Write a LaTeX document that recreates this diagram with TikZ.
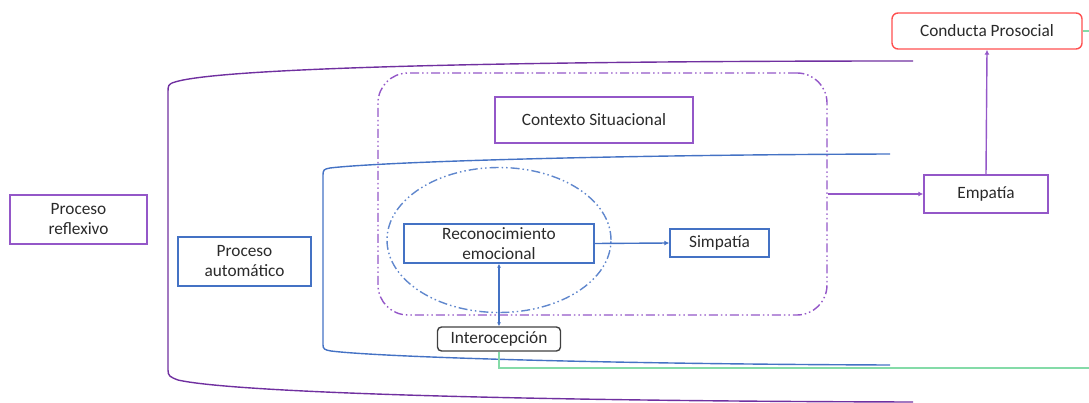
\documentclass[tikz,border=0pt]{standalone}
\usepackage{fontspec}
\setmainfont{Carlito}
\usetikzlibrary{arrows.meta,shapes.geometric}
\definecolor{morado}{HTML}{7030A0}
\definecolor{cajam}{HTML}{9457C8}
\definecolor{azul}{HTML}{4472C4}
\definecolor{rojo}{HTML}{FF5050}
\definecolor{verde}{HTML}{84DBA8}
\definecolor{gris}{HTML}{404040}
\definecolor{texto}{HTML}{2A2A2A}

\begin{document}
\begin{tikzpicture}[x=1pt, y=-1pt, line width=1.4pt,
	caja/.style={draw, align=center, inner sep=0pt, text=texto,
		font=\fontsize{17.3}{20}\selectfont},
	cajamorada/.style={caja, draw=cajam},
	cajaazul/.style={caja, draw=azul},
	flecha/.style={-{Latex[length=5pt,width=5pt]}},
	rayapunto/.style={dash pattern=on 9pt off 3pt on 1.5pt off 3pt on 1.5pt off 3pt}]
	\useasboundingbox (0,0) rectangle (1089,403);

	% llaves de los procesos
	\draw[morado] (913,61) .. controls (500,61) and (220,68) .. (175,82)
		.. controls (168,84) and (168,86) .. (168,92) -- (168,370)
		.. controls (168,376) and (170,377) .. (178,380)
		.. controls (230,392) and (500,401) .. (913,402);
	\draw[azul] (890,154) .. controls (600,155) and (380,162) .. (330,168)
		.. controls (324,169) and (323,170) .. (323,175) -- (323,345)
		.. controls (323,349) and (325,350) .. (331,351)
		.. controls (380,357) and (600,364) .. (890,365);

	\node[draw=cajam, rayapunto, rounded corners=30pt, minimum width=449,
		minimum height=242] (marco) at (602.5,194) {};
	\node[draw=azul!85!white, rayapunto, ellipse, minimum width=224,
		minimum height=145] (elip) at (499,240) {};

	\node[cajamorada, minimum width=198, minimum height=46] (ctx) at (594,120) {Contexto Situacional};
	\node[cajaazul, minimum width=190, minimum height=39] (rec) at (499,243.5) {Reconocimiento\\emocional};
	\node[cajaazul, minimum width=99, minimum height=28] (simp) at (719.5,243) {Simpatía};
	\node[caja, draw=gris, rounded corners=4pt, minimum width=123,
		minimum height=24] (inter) at (499,339) {Interocepción};
	\node[cajamorada, minimum width=124, minimum height=38] (emp) at (986,194) {Empatía};
	\node[caja, draw=rojo, rounded corners=6pt, minimum width=190,
		minimum height=36] (cond) at (987,31) {Conducta Prosocial};
	\node[cajamorada, minimum width=137, minimum height=49] (refl) at (78.5,219.5) {Proceso\\reflexivo};
	\node[cajaazul, minimum width=133, minimum height=49] (autom) at (244.5,261.5) {Proceso\\automático};

	\draw[azul, flecha] (rec.east) -- (simp.west);
	\draw[azul, {Latex[length=4pt,width=4pt]}-{Latex[length=4pt,width=4pt]}] (rec.south) -- (inter.north);
	\draw[cajam, flecha] (marco.east) -- (emp.west);
	\draw[cajam, flecha] (emp.north) -- (cond.south);
	\draw[verde] (inter.south) |- (1100,368) |- (cond.east);
\end{tikzpicture}
\end{document}
